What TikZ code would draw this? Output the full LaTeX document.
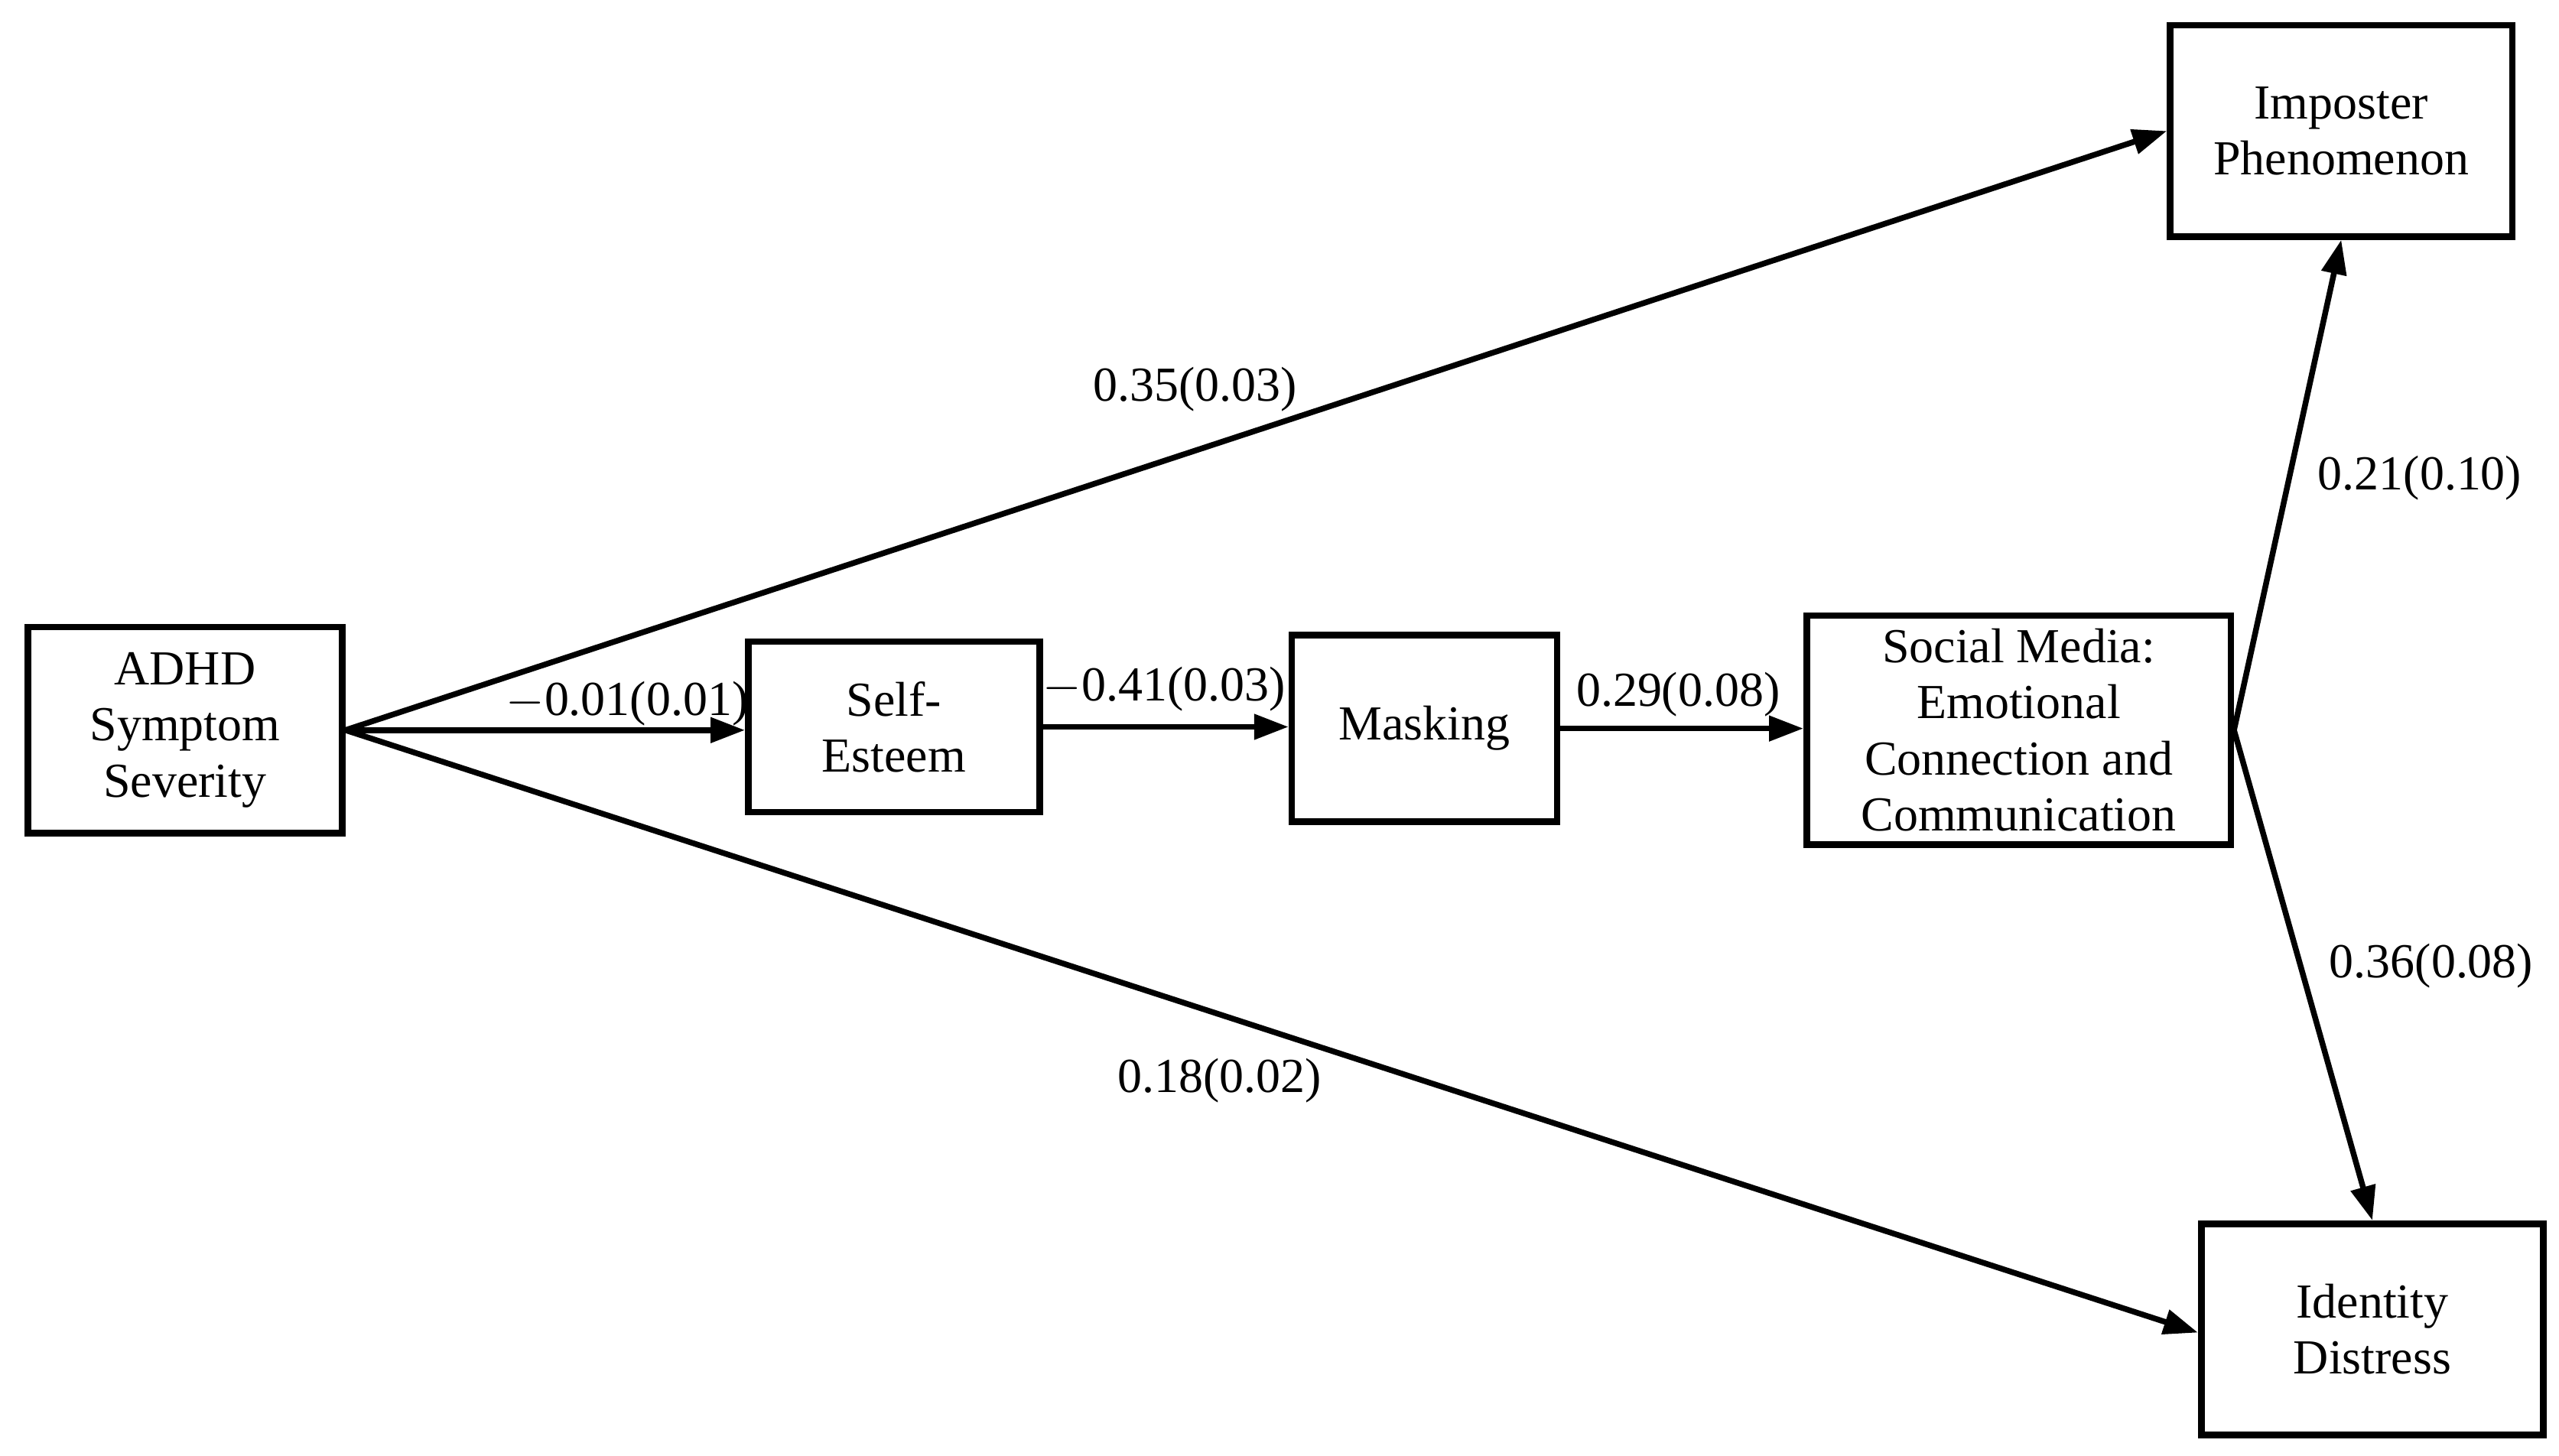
\documentclass[tikz,border=0pt]{standalone}
\usepackage{fontspec}
\setmainfont{Liberation Serif}
\usetikzlibrary{arrows.meta}
\begin{document}
\begin{tikzpicture}[x=0.02cm,y=-0.02cm,
  box/.style={draw,line width=0.08cm,align=center,inner sep=0pt,font=\fontsize{17}{19.5}\selectfont},
  arr/.style={line width=0.07cm,-{Triangle[length=0.42cm,width=0.3cm]}},
  lab/.style={font=\fontsize{17}{19.5}\selectfont}]
\useasboundingbox (0,0) rectangle (1563,889);
\node[box,minimum width=192*0.02cm,minimum height=126*0.02cm] (adhd) at (113,446) {ADHD\\Symptom\\Severity};
\node[box,minimum width=178*0.02cm,minimum height=104*0.02cm] (se) at (546,444) {Self-\\Esteem};
\node[box,minimum width=162*0.02cm,minimum height=114*0.02cm] (mask) at (870,445) {Masking};
\node[box,minimum width=259*0.02cm,minimum height=140*0.02cm] (sm) at (1233,446) {Social Media:\\Emotional\\Connection and\\Communication};
\node[box,minimum width=209*0.02cm,minimum height=129*0.02cm] (imp) at (1430,80) {Imposter\\Phenomenon};
\node[box,minimum width=209*0.02cm,minimum height=129*0.02cm] (id) at (1449,812) {Identity\\Distress};
\draw[arr] (adhd.east) -- (imp.west);
\draw[arr] (adhd.east) -- ([yshift=-0.04cm]id.west);
\draw[arr] (adhd.east) -- (se.west |- adhd.east);
\draw[arr] (se.east) -- (mask.west |- se.east);
\draw[arr] (mask.east) -- (sm.west |- mask.east);
\draw[arr] (sm.east) -- (imp.south);
\draw[arr] (sm.east) -- (id.north);
\node[lab] (l1) at (730,238) {0.35(0.03)};
\node[lab] (l2) at (745,660) {0.18(0.02)};
\node[lab] (l3) at (383,430) {$-$0.01(0.01)};
\node[lab] (l4) at (711,421) {$-$0.41(0.03)};
\node[lab] (l5) at (1025,424) {0.29(0.08)};
\node[lab] (l6) at (1478,292) {0.21(0.10)};
\node[lab] (l7) at (1485,590) {0.36(0.08)};
\end{tikzpicture}
\end{document}
